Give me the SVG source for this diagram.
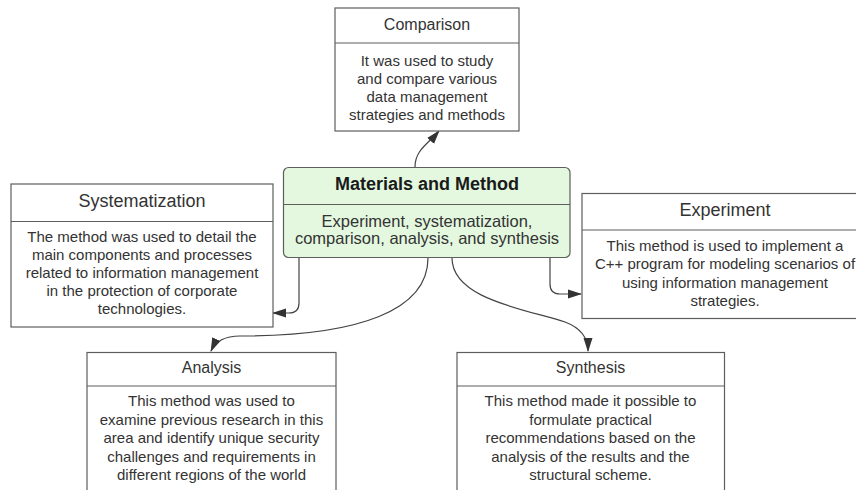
<svg xmlns="http://www.w3.org/2000/svg" width="856" height="490" viewBox="0 0 856 490">
  <style>
    .box { fill: #ffffff; stroke: #5e5e5e; stroke-width: 1.2; }
    .main { fill: #e3f8df; stroke: #5e5e5e; stroke-width: 1.2; }
    .div { stroke: #5e5e5e; stroke-width: 1.2; }
    .t { font-family: "Liberation Sans", Arial, sans-serif; fill: #333333; text-anchor: middle; }
    .h16 { font-size: 16px; }
    .h18 { font-size: 18px; }
    .b15 { font-size: 15px; }
    .b16 { font-size: 16.5px; }
    .bold { font-weight: bold; font-size: 18px; fill: #1a1a1a; }
    .link { fill: none; stroke: #444444; stroke-width: 1.2; marker-end: url(#arr); }
  </style>
  <defs>
    <marker id="arr" viewBox="0 0 14 10" refX="13" refY="5" markerWidth="14" markerHeight="10" orient="auto" markerUnits="userSpaceOnUse">
      <path d="M0,0.5 L14,5 L0,9.5 z" fill="#333333"/>
    </marker>
  </defs>

  <!-- connectors -->
  <g id="connectors">
    <path class="link" d="M415,167 C415,150 428,144 439,131"/>
    <path class="link" d="M299,258 L299,303 Q299,313 289,313 L273,313"/>
    <path class="link" d="M550,258 L550,284 Q550,294 560,294 L581,294"/>
    <path class="link" d="M428,258 C428,310 360,336 240,336 C226,336 216,340 211,351"/>
    <path class="link" d="M452,258 C452,300 530,310 565,322 C581,328 588,338 588,351"/>
  </g>

  <g id="comparison">
    <rect class="box" x="335" y="8" width="184" height="123"/>
    <line class="div" x1="335" y1="43" x2="519" y2="43"/>
    <text class="t h16" x="427" y="30">Comparison</text>
    <text class="t b15" x="427" y="65.5">It was used to study</text>
    <text class="t b15" x="427" y="83.8">and compare various</text>
    <text class="t b15" x="427" y="102">data management</text>
    <text class="t b15" x="427" y="120.3">strategies and methods</text>
  </g>

  <g id="materials-and-method">
    <rect class="main" x="283.5" y="167.5" width="286.5" height="90" rx="5"/>
    <line class="div" x1="283.5" y1="204.5" x2="570" y2="204.5"/>
    <text class="t bold" x="427" y="190">Materials and Method</text>
    <text class="t b16" x="427" y="226.7">Experiment, systematization,</text>
    <text class="t b16" x="427" y="244">comparison, analysis, and synthesis</text>
  </g>

  <g id="systematization">
    <rect class="box" x="11" y="184" width="262" height="143"/>
    <line class="div" x1="11" y1="221.5" x2="273" y2="221.5"/>
    <text class="t h18" x="142" y="207">Systematization</text>
    <text class="t b15" x="142" y="241.5">The method was used to detail the</text>
    <text class="t b15" x="142" y="259.5">main components and processes</text>
    <text class="t b15" x="142" y="277.5">related to information management</text>
    <text class="t b15" x="142" y="295.5">in the protection of corporate</text>
    <text class="t b15" x="142" y="313.5">technologies.</text>
  </g>

  <g id="experiment">
    <rect class="box" x="582" y="193.5" width="286" height="125"/>
    <line class="div" x1="582" y1="230" x2="868" y2="230"/>
    <text class="t h18" x="725" y="216">Experiment</text>
    <text class="t b15" x="725" y="251">This method is used to implement a</text>
    <text class="t b15" x="725" y="269.3">C++ program for modeling scenarios of</text>
    <text class="t b15" x="725" y="287.7">using information management</text>
    <text class="t b15" x="725" y="306">strategies.</text>
  </g>

  <g id="analysis">
    <rect class="box" x="87" y="352.5" width="249" height="150"/>
    <line class="div" x1="87" y1="386" x2="336" y2="386"/>
    <text class="t h16" x="211.5" y="373">Analysis</text>
    <text class="t b15" x="211.5" y="406">This method was used to</text>
    <text class="t b15" x="211.5" y="424.5">examine previous research in this</text>
    <text class="t b15" x="211.5" y="443">area and identify unique security</text>
    <text class="t b15" x="211.5" y="461.5">challenges and requirements in</text>
    <text class="t b15" x="211.5" y="480">different regions of the world</text>
  </g>

  <g id="synthesis">
    <rect class="box" x="457" y="352.5" width="267.5" height="150"/>
    <line class="div" x1="457" y1="386" x2="724.5" y2="386"/>
    <text class="t h16" x="590.5" y="373">Synthesis</text>
    <text class="t b15" x="590.5" y="406">This method made it possible to</text>
    <text class="t b15" x="590.5" y="424.5">formulate practical</text>
    <text class="t b15" x="590.5" y="443">recommendations based on the</text>
    <text class="t b15" x="590.5" y="461.5">analysis of the results and the</text>
    <text class="t b15" x="590.5" y="480">structural scheme.</text>
  </g>
</svg>
